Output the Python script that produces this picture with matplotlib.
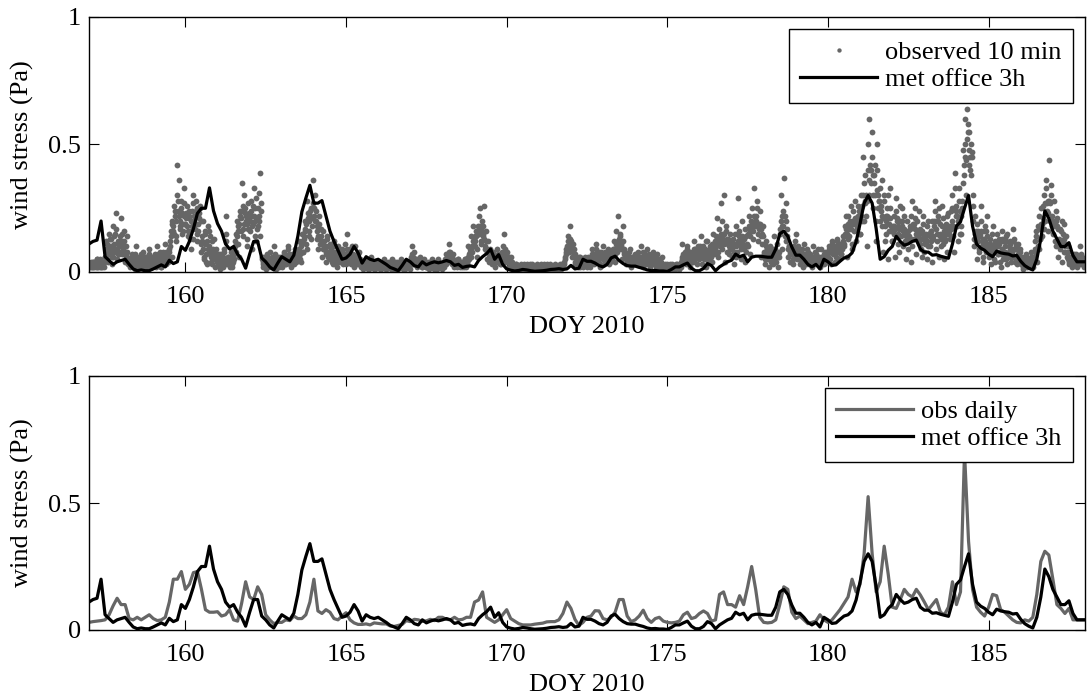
import numpy as np
import matplotlib
matplotlib.use("Agg")
import matplotlib.pyplot as plt

plt.rcParams['font.family'] = ['Liberation Serif', 'DejaVu Serif']
plt.rcParams['mathtext.fontset'] = 'stix'

# ---------------- data ----------------
start_doy = 157.0          # first sample (DOY 2010)
met_step_h = 3.0           # met office sampling (hours)
obs_step_h = 1.0           # observed readings: three readings per hour (0, 20, 40 min)

# met office 3h wind stress (Pa)
met_office_3h = [
    .11, .12, .125, .20, .06, .045, .03, .04, .045, .05, .03, .012, .005, .008, .005, .005,
    .012, .02, .028, .02, .046, .033, .04, .10, .085, .12, .17, .23, .25, .25, .33, .24,
    .19, .16, .11, .09, .10, .07, .05, .015, .07, .12, .12, .055, .04, .02, .008, .035,
    .06, .05, .04, .066, .14, .236, .29, .34, .27, .27, .28, .22, .16, .12, .085, .05,
    .055, .07, .10, .075, .035, .06, .05, .045, .05, .04, .03, .018, .012, .005, .026, .05,
    .04, .025, .02, .04, .028, .035, .04, .036, .04, .045, .04, .026, .03, .018, .022, .024,
    .02, .045, .06, .072, .09, .05, .068, .03, .012, .007, .004, .006, .01, .008, .005, .003,
    .004, .005, .007, .01, .011, .013, .01, .012, .026, .012, .015, .05, .042, .042, .035, .025,
    .02, .03, .055, .062, .045, .033, .025, .023, .023, .018, .014, .008, .005, .006, .004, .004,
    .002, .01, .02, .02, .028, .035, .015, .005, .005, .014, .033, .025, .005, .02, .03, .04,
    .046, .07, .06, .066, .04, .058, .062, .062, .06, .058, .058, .09, .15, .16, .14, .098,
    .066, .066, .05, .03, .02, .03, .012, .05, .04, .026, .028, .042, .055, .06, .075, .118,
    .19, .27, .30, .27, .17, .05, .06, .085, .10, .14, .12, .105, .11, .12, .125, .09,
    .078, .078, .066, .068, .062, .058, .054, .11, .18, .197, .25, .30, .18, .11, .094, .085,
    .07, .06, .082, .075, .072, .07, .063, .065, .042, .025, .015, .008, .05, .13, .24, .21,
    .16, .13, .10, .10, .115, .065, .04, .04, .04,
]

# observed, daily-filtered wind stress (Pa), same 3h grid
obs_daily = [
    .03, .033, .035, .037, .04, .06, .095, .125, .10, .10, .045, .04, .05, .04, .05, .06,
    .045, .037, .04, .05, .11, .20, .20, .23, .16, .18, .226, .23, .16, .08, .07, .07,
    .072, .055, .06, .08, .04, .035, .105, .19, .13, .12, .17, .14, .06, .04, .025, .03,
    .03, .04, .037, .055, .045, .045, .06, .11, .20, .075, .065, .08, .07, .045, .04, .055,
    .068, .04, .028, .022, .022, .024, .02, .028, .026, .024, .024, .016, .014, .018, .022, .037,
    .033, .042, .04, .034, .036, .042, .037, .05, .05, .042, .04, .05, .04, .042, .05, .05,
    .11, .118, .15, .05, .04, .03, .04, .06, .08, .045, .035, .025, .02, .02, .02, .023,
    .025, .027, .032, .033, .033, .04, .065, .11, .085, .042, .018, .03, .05, .055, .076, .075,
    .045, .04, .05, .07, .12, .12, .055, .033, .04, .055, .078, .045, .03, .045, .05, .035,
    .03, .028, .03, .035, .06, .07, .045, .05, .065, .075, .065, .035, .04, .14, .15, .10,
    .10, .09, .135, .10, .17, .25, .16, .05, .03, .028, .03, .04, .10, .17, .16, .07,
    .045, .055, .04, .025, .03, .035, .06, .04, .03, .04, .06, .08, .105, .13, .20, .15,
    .18, .30, .525, .30, .15, .19, .33, .22, .09, .085, .12, .16, .14, .13, .16, .138,
    .11, .08, .10, .12, .07, .06, .09, .19, .10, .15, .70, .35, .16, .09, .07, .055,
    .09, .14, .135, .08, .07, .055, .04, .03, .028, .04, .035, .05, .14, .27, .31, .295,
    .20, .10, .085, .065, .085, .04, .04, .04, .04,
]

# observed 10 min cloud, readings on the hour (hundredths of Pa), one row per day 157..187
obs_10min_00 = [
    2, 3, 2, 4, 3, 2, 5, 3, 2, 3, 4, 2, 6, 12, 4, 15, 9, 3, 18, 8, 23, 5, 11, 14,
    21, 7, 16, 4, 10, 3, 5, 2, 7, 3, 1, 10, 4, 2, 6, 3, 8, 2, 5, 1, 4, 9, 3, 6,
    3, 7, 2, 10, 4, 6, 2, 8, 3, 11, 5, 4, 8, 14, 6, 18, 22, 12, 42, 36, 20, 25, 16, 33,
    19, 26, 14, 22, 9, 24, 30, 17, 28, 12, 21, 25, 8, 20, 5, 15, 3, 18, 10, 4, 12, 6, 2, 9,
    3, 7, 1, 5, 2, 9, 22, 4, 6, 2, 8, 3, 5, 12, 8, 18, 6, 24, 35, 14, 30, 20, 10, 27,
    16, 28, 9, 33, 20, 12, 25, 31, 39, 6, 2, 5, 1, 4, 3, 8, 2, 4, 10, 3, 1, 6, 2, 5,
    2, 5, 8, 3, 6, 10, 4, 2, 7, 3, 9, 5, 6, 12, 4, 15, 8, 20, 11, 28, 16, 22, 13, 36,
    25, 30, 18, 9, 22, 14, 6, 16, 10, 4, 13, 8, 5, 9, 3, 12, 7, 2, 10, 6, 4, 8, 3, 11,
    6, 15, 4, 9, 3, 7, 2, 10, 5, 3, 8, 2, 3, 1, 4, 2, 5, 1, 3, 6, 2, 4, 1, 3,
    2, 4, 1, 3, 5, 2, 1, 4, 3, 2, 5, 1, 3, 2, 4, 1, 3, 5, 2, 4, 1, 3, 2, 4,
    4, 10, 6, 3, 5, 2, 4, 6, 3, 2, 5, 3, 2, 4, 1, 3, 5, 2, 4, 3, 1, 5, 2, 3,
    3, 2, 5, 7, 4, 11, 6, 3, 5, 2, 4, 3, 5, 2, 3, 4, 2, 5, 3, 10, 5, 14, 8, 18,
    10, 16, 6, 22, 25, 12, 18, 26, 9, 5, 12, 4, 6, 3, 8, 2, 5, 9, 4, 7, 3, 10, 15, 6,
    8, 4, 2, 6, 3, 2, 1, 3, 2, 1, 2, 3, 1, 2, 1, 3, 2, 1, 2, 3, 1, 2, 1, 2,
    1, 2, 3, 1, 2, 1, 3, 2, 1, 2, 1, 2, 3, 1, 2, 1, 2, 3, 2, 4, 7, 10, 14, 18,
    12, 6, 9, 3, 5, 2, 4, 6, 3, 2, 5, 4, 3, 6, 2, 5, 9, 3, 7, 11, 4, 8, 2, 6,
    10, 3, 7, 5, 9, 4, 8, 6, 12, 4, 16, 22, 9, 14, 5, 18, 8, 3, 7, 5, 9, 2, 6, 4,
    6, 3, 8, 5, 10, 4, 2, 7, 3, 9, 5, 2, 6, 8, 3, 4, 7, 2, 5, 3, 2, 1, 3, 2,
    1, 2, 3, 1, 2, 2, 1, 3, 2, 1, 2, 11, 5, 8, 3, 10, 6, 2, 7, 4, 12, 9, 3, 6,
    8, 14, 3, 10, 6, 2, 12, 5, 9, 4, 15, 7, 10, 21, 6, 14, 27, 9, 30, 4, 18, 11, 7, 15,
    6, 13, 3, 18, 8, 29, 12, 5, 20, 9, 4, 14, 10, 22, 7, 25, 16, 33, 20, 28, 12, 24, 6, 15,
    8, 3, 12, 5, 2, 10, 6, 3, 14, 4, 7, 2, 15, 30, 9, 37, 22, 12, 6, 10, 4, 8, 3, 12,
    15, 5, 9, 3, 7, 2, 11, 4, 6, 8, 3, 5, 2, 10, 4, 7, 3, 6, 2, 9, 5, 3, 8, 4,
    6, 10, 3, 12, 8, 4, 9, 13, 5, 11, 7, 14, 10, 18, 6, 22, 14, 26, 9, 20, 28, 12, 17, 24,
    15, 30, 45, 20, 38, 10, 50, 60, 35, 55, 25, 42, 12, 50, 28, 20, 36, 8, 30, 15, 25, 5, 33, 18,
    12, 22, 6, 29, 15, 8, 20, 25, 10, 17, 5, 14, 9, 18, 4, 28, 13, 21, 7, 16, 24, 11, 6, 19,
    8, 14, 5, 20, 10, 12, 4, 18, 28, 9, 22, 6, 15, 26, 11, 5, 19, 8, 23, 13, 17, 30, 8, 39,
    24, 12, 33, 15, 25, 48, 60, 30, 64, 55, 40, 50, 20, 10, 22, 5, 16, 9, 26, 12, 4, 18, 8, 14,
    6, 13, 3, 18, 9, 4, 15, 7, 11, 2, 16, 5, 10, 14, 3, 8, 12, 4, 17, 6, 9, 3, 11, 5,
    3, 6, 1, 4, 7, 2, 5, 3, 8, 2, 6, 12, 4, 18, 9, 25, 14, 30, 20, 36, 16, 44, 27, 22,
    15, 28, 10, 21, 6, 17, 12, 4, 19, 8, 14, 5, 3, 6, 2, 5, 3, 7, 2, 4, 10, 3, 5, 2,
]

# observed 10 min cloud, readings at 20 past each hour (hundredths of Pa)
obs_10min_20 = [
    2, 4, 3, 2, 4, 3, 2, 3, 5, 2, 3, 4, 8, 11, 7, 13, 10, 6, 14, 9, 17, 7, 12, 8,
    15, 10, 12, 7, 8, 4, 4, 3, 5, 2, 6, 3, 4, 6, 3, 5, 2, 4, 6, 3, 5, 4, 2, 5,
    4, 6, 3, 7, 5, 3, 6, 4, 5, 8, 4, 6, 10, 16, 19, 15, 24, 20, 28, 22, 17, 23, 19, 27,
    21, 18, 24, 16, 20, 13, 22, 19, 25, 16, 23, 20, 12, 9, 16, 7, 12, 8, 14, 6, 9, 5, 8, 4,
    4, 3, 7, 3, 6, 5, 15, 3, 5, 4, 6, 4, 7, 10, 14, 16, 19, 21, 24, 17, 25, 22, 19, 23,
    20, 24, 19, 22, 25, 21, 18, 20, 24, 5, 3, 4, 2, 6, 4, 5, 3, 6, 4, 5, 3, 4, 6, 3,
    3, 4, 6, 5, 4, 7, 3, 5, 6, 4, 7, 6, 8, 7, 10, 12, 14, 16, 19, 23, 20, 24, 21, 25,
    22, 20, 16, 14, 17, 12, 11, 10, 9, 8, 10, 7, 6, 7, 5, 8, 6, 4, 7, 5, 6, 4, 5, 7,
    7, 8, 5, 6, 4, 5, 3, 6, 4, 5, 3, 4, 3, 2, 3, 2, 3, 2, 2, 3, 2, 3, 2, 2,
    2, 3, 2, 2, 3, 2, 2, 3, 2, 3, 2, 2, 2, 3, 2, 2, 2, 3, 3, 2, 2, 3, 2, 2,
    5, 7, 4, 5, 3, 4, 3, 3, 4, 3, 3, 4, 2, 3, 2, 3, 2, 3, 2, 3, 2, 3, 2, 2,
    3, 3, 4, 4, 6, 8, 5, 5, 4, 3, 3, 4, 4, 3, 3, 3, 3, 4, 4, 6, 8, 9, 10, 13,
    12, 14, 15, 17, 18, 16, 15, 13, 12, 9, 8, 7, 5, 5, 4, 5, 6, 5, 5, 6, 5, 7, 8, 7,
    6, 5, 4, 4, 3, 2, 2, 2, 2, 2, 2, 2, 2, 2, 2, 2, 2, 2, 2, 2, 2, 2, 2, 2,
    2, 2, 2, 2, 2, 2, 2, 2, 2, 2, 2, 2, 2, 2, 2, 2, 2, 2, 2, 5, 8, 9, 11, 12,
    10, 8, 7, 4, 4, 4, 3, 4, 4, 3, 4, 3, 4, 4, 3, 6, 6, 5, 7, 7, 6, 5, 6, 6,
    7, 6, 5, 6, 6, 5, 6, 7, 9, 8, 10, 12, 11, 11, 9, 9, 7, 5, 5, 6, 5, 4, 5, 5,
    5, 5, 5, 5, 6, 5, 4, 5, 5, 5, 5, 4, 5, 6, 4, 4, 5, 3, 4, 4, 2, 2, 2, 2,
    2, 2, 2, 2, 2, 2, 2, 2, 2, 2, 4, 6, 6, 6, 7, 6, 6, 5, 5, 7, 7, 6, 7, 6,
    9, 8, 7, 7, 9, 5, 8, 7, 7, 8, 10, 9, 12, 11, 13, 10, 15, 13, 15, 12, 13, 12, 10, 11,
    9, 10, 11, 10, 11, 14, 11, 10, 13, 13, 10, 11, 15, 17, 16, 18, 19, 20, 22, 18, 17, 19, 14, 14,
    7, 8, 9, 7, 5, 7, 8, 6, 9, 8, 7, 6, 17, 22, 18, 22, 20, 14, 9, 8, 7, 7, 8, 7,
    9, 8, 7, 5, 7, 5, 7, 5, 7, 6, 6, 5, 5, 6, 6, 6, 6, 5, 5, 5, 6, 5, 6, 5,
    8, 8, 9, 9, 9, 7, 10, 10, 9, 9, 10, 12, 14, 17, 15, 19, 18, 17, 20, 19, 21, 20, 22, 20,
    22, 26, 30, 27, 30, 28, 36, 40, 40, 38, 35, 30, 32, 30, 28, 24, 22, 21, 18, 20, 22, 19, 21, 16,
    16, 18, 17, 21, 18, 17, 17, 20, 16, 15, 14, 15, 13, 17, 13, 19, 19, 17, 15, 14, 15, 13, 16, 15,
    11, 15, 12, 15, 14, 16, 13, 20, 20, 15, 20, 14, 13, 18, 14, 12, 17, 15, 16, 18, 20, 18, 25, 26,
    22, 20, 24, 18, 28, 42, 50, 44, 58, 48, 45, 47, 26, 13, 16, 14, 12, 15, 16, 10, 13, 12, 16, 11,
    9, 10, 10, 9, 11, 8, 10, 10, 8, 7, 13, 7, 8, 12, 6, 10, 9, 8, 12, 6, 10, 6, 8, 8,
    4, 4, 3, 5, 5, 4, 4, 5, 5, 4, 8, 14, 9, 17, 13, 19, 21, 20, 27, 27, 23, 28, 30, 20,
    18, 18, 20, 18, 11, 12, 16, 11, 13, 10, 10, 8, 4, 5, 3, 6, 4, 5, 5, 4, 6, 5, 4, 3,
]

# observed 10 min cloud, readings at 40 past each hour (hundredths of Pa)
obs_10min_40 = [
    3, 2, 4, 2, 3, 5, 2, 4, 3, 2, 3, 6, 9, 5, 10, 7, 13, 6, 11, 15, 9, 12, 7, 10,
    12, 9, 8, 6, 14, 5, 3, 6, 2, 4, 7, 2, 5, 3, 7, 4, 2, 6, 3, 5, 7, 2, 4, 3,
    5, 3, 6, 4, 8, 2, 5, 4, 7, 3, 6, 9, 12, 20, 16, 26, 14, 30, 24, 18, 28, 15, 22, 19,
    23, 16, 21, 13, 18, 27, 20, 24, 15, 19, 26, 11, 14, 6, 11, 4, 9, 16, 7, 3, 8, 13, 5, 7,
    5, 2, 6, 4, 8, 3, 12, 6, 3, 5, 2, 6, 9, 15, 20, 11, 22, 16, 26, 19, 23, 13, 17, 21,
    22, 18, 26, 14, 29, 17, 22, 14, 27, 4, 6, 3, 7, 2, 5, 4, 6, 3, 7, 2, 4, 3, 5, 4,
    4, 7, 3, 6, 9, 5, 3, 6, 4, 8, 4, 7, 9, 5, 11, 8, 13, 17, 9, 21, 14, 25, 18, 27,
    20, 24, 13, 19, 11, 17, 9, 12, 7, 14, 6, 11, 8, 4, 10, 6, 5, 9, 4, 7, 9, 5, 6, 3,
    9, 4, 7, 5, 10, 4, 6, 3, 7, 4, 5, 3, 2, 4, 2, 3, 1, 4, 2, 3, 1, 4, 2, 2,
    3, 1, 3, 2, 4, 1, 3, 2, 4, 1, 3, 2, 4, 1, 2, 3, 2, 4, 1, 2, 3, 2, 4, 1,
    6, 3, 8, 4, 3, 5, 3, 4, 2, 4, 3, 2, 3, 2, 4, 2, 3, 1, 3, 2, 4, 2, 3, 1,
    2, 4, 3, 5, 8, 6, 4, 7, 3, 4, 2, 5, 3, 4, 2, 3, 5, 2, 4, 7, 9, 6, 12, 10,
    14, 9, 18, 15, 11, 20, 14, 10, 16, 8, 6, 9, 4, 7, 3, 6, 4, 7, 3, 5, 8, 6, 9, 4,
    5, 6, 3, 4, 2, 1, 3, 2, 1, 2, 1, 2, 3, 1, 2, 1, 2, 3, 1, 2, 1, 2, 3, 1,
    2, 1, 2, 3, 1, 2, 1, 2, 3, 1, 2, 1, 2, 2, 1, 3, 1, 2, 3, 6, 9, 12, 8, 13,
    9, 11, 7, 4, 3, 6, 2, 5, 4, 3, 6, 2, 5, 3, 4, 7, 4, 6, 9, 5, 7, 3, 8, 5,
    6, 8, 4, 7, 3, 6, 5, 9, 7, 11, 8, 13, 15, 10, 12, 7, 6, 5, 4, 8, 3, 6, 5, 7,
    4, 7, 3, 6, 5, 8, 3, 5, 6, 4, 7, 3, 4, 5, 6, 2, 5, 4, 3, 6, 1, 2, 2, 3,
    2, 1, 2, 3, 1, 2, 3, 2, 1, 3, 5, 7, 7, 4, 9, 5, 8, 4, 6, 9, 5, 7, 10, 5,
    10, 6, 9, 5, 12, 7, 4, 10, 6, 11, 8, 12, 14, 8, 17, 12, 20, 15, 11, 16, 8, 13, 9, 12,
    10, 8, 15, 6, 12, 16, 9, 14, 11, 17, 8, 10, 18, 14, 20, 13, 22, 18, 25, 15, 19, 17, 11, 18,
    5, 10, 7, 9, 6, 4, 9, 7, 5, 11, 6, 8, 20, 18, 24, 14, 27, 17, 10, 7, 9, 5, 10, 6,
    8, 10, 6, 4, 9, 5, 7, 3, 9, 5, 7, 4, 6, 4, 8, 5, 9, 4, 6, 3, 7, 5, 4, 6,
    9, 5, 11, 7, 10, 6, 12, 8, 10, 7, 9, 11, 15, 22, 13, 17, 20, 11, 24, 16, 21, 18, 26, 15,
    25, 20, 35, 28, 22, 40, 30, 42, 45, 30, 38, 20, 40, 25, 33, 26, 18, 28, 12, 22, 30, 16, 25, 12,
    18, 15, 24, 20, 11, 26, 14, 18, 22, 12, 20, 16, 14, 22, 10, 18, 25, 15, 20, 12, 17, 9, 22, 14,
    12, 18, 10, 15, 16, 20, 14, 24, 17, 12, 25, 19, 10, 21, 16, 13, 22, 18, 15, 24, 25, 14, 33, 22,
    18, 28, 15, 22, 35, 38, 45, 52, 55, 42, 38, 45, 30, 15, 12, 19, 8, 14, 20, 6, 16, 10, 22, 9,
    11, 8, 15, 5, 12, 10, 7, 13, 4, 9, 12, 8, 5, 15, 7, 11, 6, 9, 13, 4, 11, 7, 6, 9,
    5, 2, 4, 6, 3, 5, 2, 6, 4, 5, 9, 16, 10, 22, 13, 19, 26, 17, 33, 24, 28, 20, 34, 18,
    20, 12, 24, 17, 13, 9, 20, 15, 8, 11, 6, 10, 5, 4, 3, 7, 5, 4, 6, 3, 7, 6, 4, 3,
]

xticks = [160, 165, 170, 175, 180, 185]
yticks = [0, 0.5, 1]
ytick_labels = ['0', '0.5', '1']
xlim = (157, 188)
ylim = (0, 1)

# ---------------- derived time axes ----------------
t_met = start_doy + np.arange(len(met_office_3h)) * met_step_h / 24.0
hours = np.arange(len(obs_10min_00)) * obs_step_h
t_obs = np.concatenate([start_doy + hours / 24.0,
                        start_doy + (hours + 20 / 60) / 24.0,
                        start_doy + (hours + 40 / 60) / 24.0])
obs_10min = np.concatenate([obs_10min_00, obs_10min_20, obs_10min_40]) / 100.0
order = np.argsort(t_obs, kind='stable')
t_obs, obs_10min = t_obs[order], obs_10min[order]

GRAY = '#666666'
FS = 19

W, H = 1087, 699
fig = plt.figure(figsize=(W / 100, H / 100), dpi=100)
left = 89 / W
width = (1085 - 89) / W
ax1 = fig.add_axes([left, 1 - 272 / H, width, 255 / H])
ax2 = fig.add_axes([left, 1 - 630 / H, width, 254 / H])

ax1.plot(t_obs, obs_10min, 'o', color=GRAY, markersize=4.2, markeredgewidth=0,
         label='observed 10 min', zorder=2)
ax1.plot(t_met, met_office_3h, '-', color='black', linewidth=2.3,
         label='met office 3h', zorder=3)

ax2.plot(t_met, obs_daily, '-', color=GRAY, linewidth=2.3, label='obs daily', zorder=2)
ax2.plot(t_met, met_office_3h, '-', color='black', linewidth=2.3,
         label='met office 3h', zorder=3)

for ax in (ax1, ax2):
    ax.set_xlim(*xlim)
    ax.set_ylim(*ylim)
    ax.set_xticks(xticks)
    ax.set_yticks(yticks)
    ax.set_yticklabels(ytick_labels)
    ax.tick_params(direction='in', length=7, width=0.8, top=True, right=True,
                   labelsize=FS)
    ax.tick_params(axis='x', pad=10)
    ax.tick_params(axis='y', pad=6)
    for s in ax.spines.values():
        s.set_linewidth(1.0)
    ax.set_xlabel('DOY 2010', fontsize=FS, labelpad=6)
    ax.set_ylabel('wind stress (Pa)', fontsize=FS, labelpad=10)

leg_kw = dict(loc='upper right', fontsize=FS, frameon=True, fancybox=False,
              edgecolor='black', framealpha=1, handlelength=2.9, handletextpad=0.3,
              labelspacing=0.12, borderpad=0.45, borderaxespad=0.45, markerscale=0.75)
l1 = ax1.legend(**leg_kw)
l1.get_frame().set_linewidth(1.0)
l2 = ax2.legend(**leg_kw)
l2.get_frame().set_linewidth(1.0)

fig.savefig('out.png', dpi=100)
